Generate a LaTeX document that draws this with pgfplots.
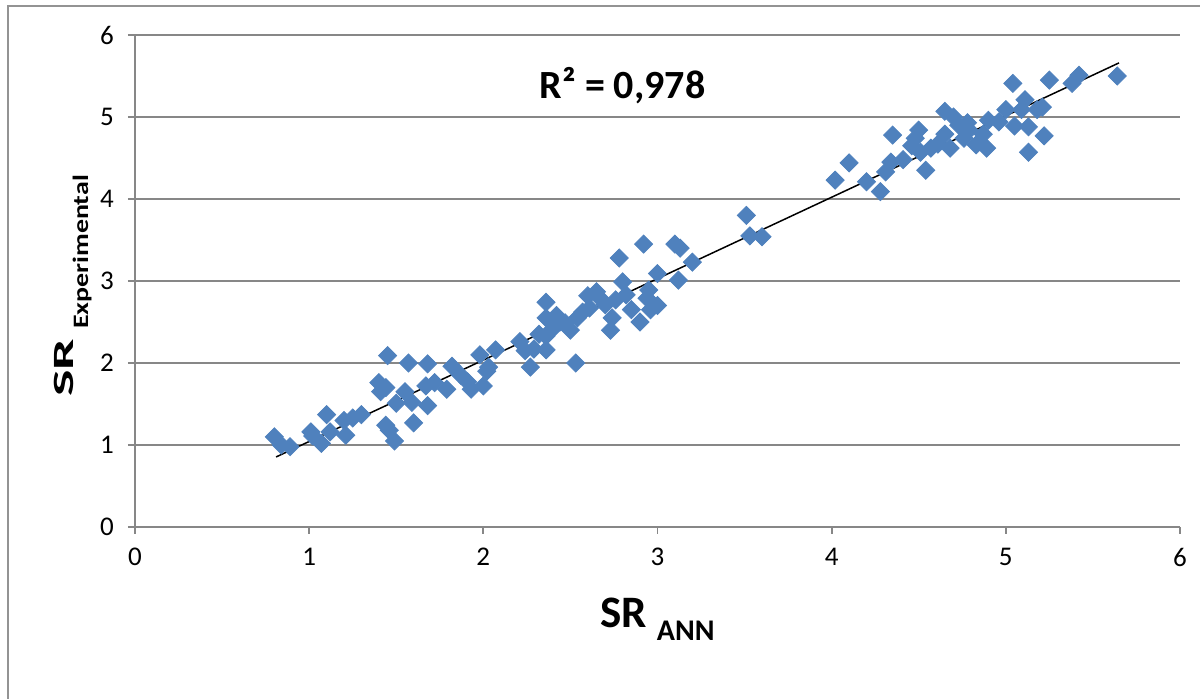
\documentclass[border=0pt]{standalone}
\usepackage{pgfplots}
\pgfplotsset{compat=1.18}
\usepackage{fontspec}
\setmainfont{Carlito}
\definecolor{ptblue}{HTML}{4F81BD}
\definecolor{gridgray}{HTML}{878787}
\begin{document}
\begin{tikzpicture}
\useasboundingbox (-67.5pt,-86pt) rectangle (532.5pt,263.5pt);
\draw[gridgray!90, line width=1pt] (-63.25pt,-90pt) -- (-63.25pt,260.25pt) -- (540pt,260.25pt);
\begin{axis}[
 at={(0pt,0pt)}, anchor=south west,
 scale only axis, width=522.5pt, height=246pt,
 xmin=0, xmax=6, ymin=0, ymax=6,
 xtick={0,1,2,3,4,5,6}, ytick={0,1,2,3,4,5,6},
 axis lines=left, axis line style={-, gridgray, line width=0.9pt},
 tick align=outside, major tick length=3.5pt,
 tick style={gridgray, line width=0.9pt},
 ymajorgrids, grid style={gridgray, line width=0.9pt},
 ticklabel style={font=\fontsize{13.5}{16}\selectfont},
 yticklabel style={xshift=-3.5pt},
 xticklabel style={yshift=-3.5pt},
 /pgf/number format/assume math mode=true,
 clip=false,
 xlabel={{\fontsize{22.5}{26}\selectfont\bfseries SR}\hspace{5pt}\raisebox{-6.5pt}{\fontsize{15}{18}\selectfont\bfseries ANN}},
 ylabel={\scalebox{2.0}[1.05]{\fontsize{14}{16}\selectfont\bfseries SR}\hspace{5pt}\raisebox{-7.5pt}{\scalebox{1.27}[1]{\fontsize{11}{13}\selectfont\bfseries Experimental}}},
 every axis x label/.style={at={(axis description cs:0.5,-0.2033)}, anchor=base},
 every axis y label/.style={at={(axis description cs:-0.0593,0.49)}, rotate=90, anchor=base},
]
\addplot[only marks, mark=square*, mark size=3.2pt, mark options={rotate=45, fill=ptblue, draw=ptblue}, color=ptblue] table {
x y
0.80 1.10
0.84 1.00
0.89 0.98
1.01 1.16
1.02 1.11
1.07 1.02
1.10 1.37
1.12 1.16
1.20 1.30
1.21 1.12
1.25 1.33
1.30 1.37
1.40 1.76
1.41 1.65
1.44 1.70
1.45 2.09
1.44 1.24
1.46 1.18
1.49 1.05
1.50 1.51
1.55 1.65
1.57 2.00
1.59 1.52
1.60 1.27
1.67 1.72
1.68 1.48
1.68 1.99
1.72 1.76
1.79 1.68
1.82 1.96
1.87 1.85
1.91 1.77
1.93 1.68
1.98 2.10
2.00 1.72
2.02 1.90
2.03 1.95
2.07 2.16
2.21 2.26
2.24 2.15
2.27 1.95
2.29 2.17
2.32 2.35
2.36 2.33
2.36 2.74
2.36 2.55
2.36 2.16
2.39 2.40
2.42 2.58
2.44 2.50
2.47 2.49
2.50 2.40
2.53 2.00
2.54 2.55
2.57 2.62
2.60 2.82
2.61 2.67
2.65 2.87
2.67 2.79
2.70 2.71
2.73 2.40
2.74 2.55
2.76 2.77
2.78 3.28
2.80 2.99
2.82 2.83
2.85 2.65
2.90 2.50
2.92 3.45
2.94 2.79
2.96 2.65
3.00 2.70
3.00 3.09
2.95 2.89
3.10 3.45
3.13 3.40
3.12 3.01
3.20 3.23
3.51 3.80
3.53 3.55
3.60 3.54
4.02 4.23
4.10 4.44
4.20 4.21
4.28 4.09
4.31 4.33
4.34 4.45
4.35 4.78
4.41 4.48
4.46 4.65
4.48 4.74
4.50 4.84
4.51 4.57
4.54 4.35
4.57 4.62
4.61 4.67
4.65 4.79
4.65 5.07
4.68 4.62
4.70 5.00
4.73 4.90
4.76 4.74
4.78 4.93
4.79 4.84
4.83 4.66
4.87 4.79
4.89 4.62
4.90 4.96
4.96 4.94
5.00 5.09
5.04 5.41
5.05 4.89
5.09 5.09
5.11 5.21
5.13 4.88
5.13 4.57
5.18 5.09
5.21 5.12
5.22 4.77
5.25 5.45
5.38 5.41
5.42 5.51
5.64 5.50
};
\addplot[black, line width=0.75pt] coordinates {(0.81,0.854) (5.65,5.66)};
\node[anchor=base, font=\fontsize{20}{24}\selectfont\bfseries] at (axis cs:2.8,5.23) {R² = 0,978};
\end{axis}
\end{tikzpicture}
\end{document}
